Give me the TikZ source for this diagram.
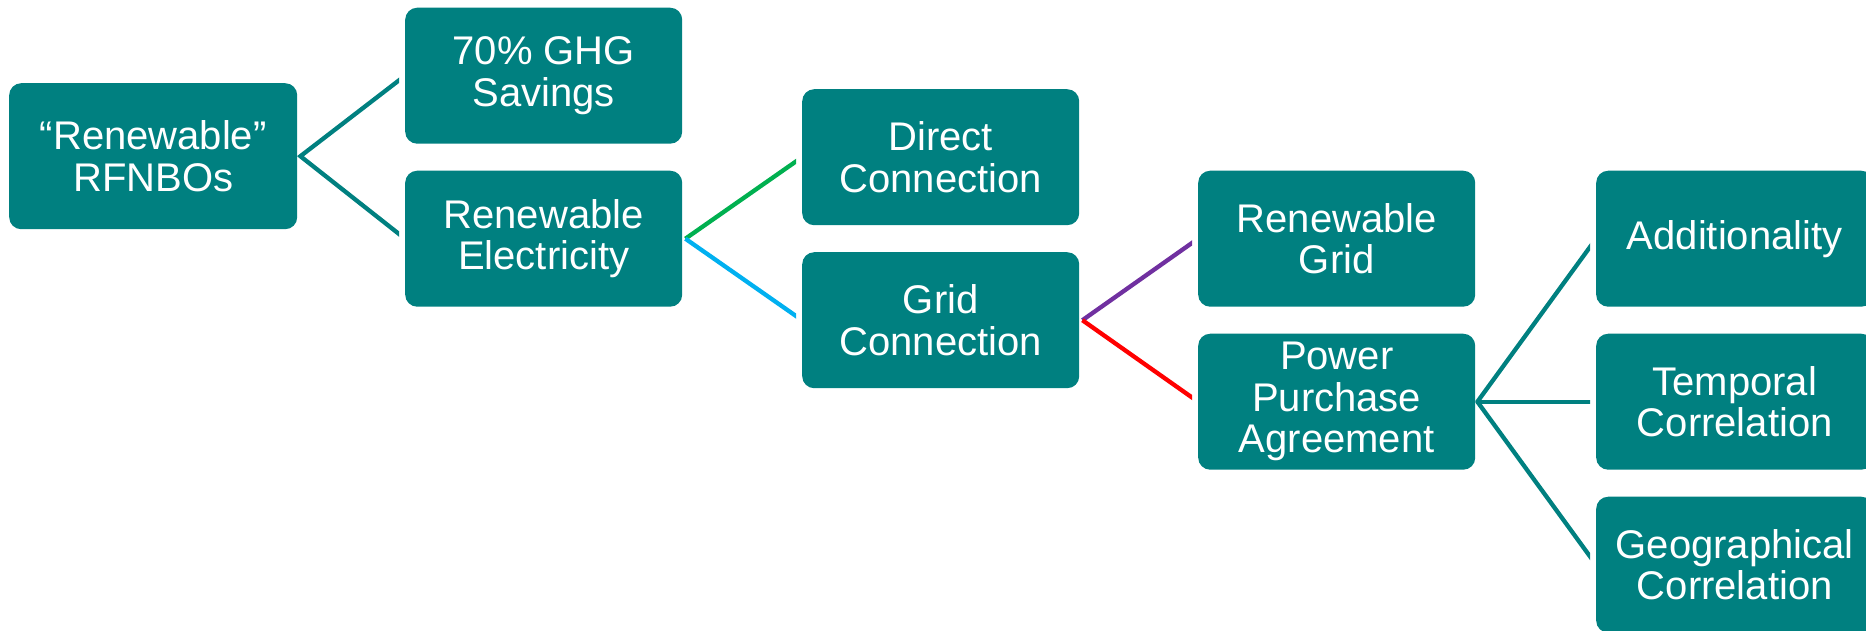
\documentclass[tikz,border=0pt]{standalone}
\usepackage{fontspec}
\setmainfont{Liberation Sans}
\definecolor{boxteal}{RGB}{0,128,128}
\definecolor{lgreen}{RGB}{0,176,80}
\definecolor{lcyan}{RGB}{0,176,240}
\definecolor{lpurple}{RGB}{112,48,160}
\definecolor{lred}{RGB}{255,0,0}
\begin{document}
\begin{tikzpicture}[x=1pt,y=-1pt,
  card/.style={fill=boxteal, rounded corners=12pt, text=white, align=center,
    minimum width=277pt, minimum height=136pt, anchor=north west, inner sep=0pt,
    font=\fontsize{40}{41.5}\selectfont},
  link/.style={line width=4.3pt, line join=miter}]
\useasboundingbox (0,0) rectangle (1866,630);
\coordinate (top) at (0,0);
\coordinate (bot) at (0,630);

% boxes
\node[card, minimum width=288pt, minimum height=146pt] (root) at (9,83) {“Renewable”\\RFNBOs};
\node[card] (ghg) at (405,7.5) {70\% GHG\\Savings};
\node[card] (re) at (405,170.5) {Renewable\\Electricity};
\node[card] (dc) at (802,89) {Direct\\Connection};
\node[card] (gc) at (802,252) {Grid\\Connection};
\node[card] (rg) at (1198,170.5) {Renewable\\Grid};
\node[card] (ppa) at (1198,333.5) {Power\\Purchase\\Agreement};
\node[card] (add) at (1596,170.5) {Additionality};
\node[card] (tc) at (1596,333.5) {Temporal\\Correlation};
\node[card] (geo) at (1596,496.5) {Geographical\\Correlation};

% connectors, cut square just short of the child boxes
\begin{scope}
  \clip (root.east |- top) rectangle ([xshift=-6pt]ghg.west |- bot);
  \draw[link, boxteal] (ghg.west) -- ([xshift=3pt]root.east) -- (re.west);
\end{scope}
\begin{scope}
  \clip (re.east |- top) rectangle ([xshift=-6pt]dc.west |- bot);
  \draw[link, lgreen] ([xshift=3pt]re.east) -- (dc.west);
  \draw[link, lcyan] ([xshift=3pt]re.east) -- (gc.west);
\end{scope}
\begin{scope}
  \clip (gc.east |- top) rectangle ([xshift=-6pt]rg.west |- bot);
  \draw[link, lpurple] ([xshift=3pt]gc.east) -- (rg.west);
  \draw[link, lred] ([xshift=3pt]gc.east) -- (ppa.west);
\end{scope}
\begin{scope}
  \clip (ppa.east |- top) rectangle ([xshift=-6pt]add.west |- bot);
  \draw[link, boxteal] (add.west) -- ([xshift=2pt]ppa.east) -- (geo.west);
  \draw[link, boxteal] ([xshift=2pt]ppa.east) -- (tc.west);
\end{scope}
\end{tikzpicture}
\end{document}
